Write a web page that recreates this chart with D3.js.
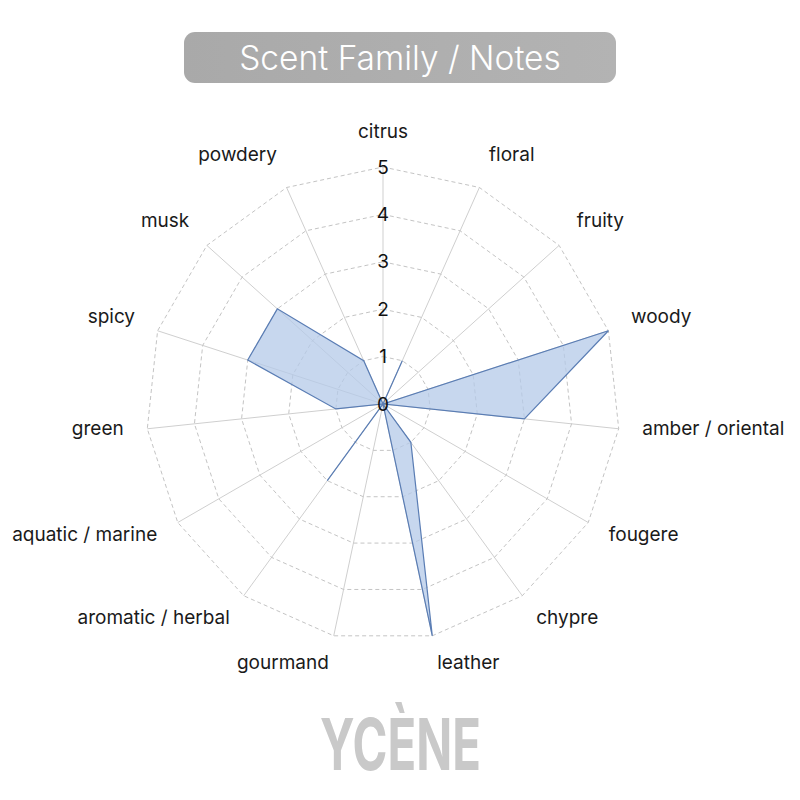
<!DOCTYPE html>
<html>
<head>
<meta charset="utf-8">
<script src="https://cdn.jsdelivr.net/npm/d3@7"></script>
<style>
  body { margin: 0; background: #fff; }
  text { font-family: Inter, "Noto Sans", sans-serif; }
</style>
</head>
<body>
<div id="chart"></div>
<script>
// scent families, clockwise from the top
const notes = ['citrus', 'floral', 'fruity', 'woody', 'amber / oriental', 'fougere', 'chypre',
    'leather', 'gourmand', 'aromatic / herbal', 'aquatic / marine', 'green', 'spicy', 'musk', 'powdery'];
const scores = [0, 1, 0, 5, 3, 0, 1, 5, 0, 2, 0, 1, 3, 3, 1];
const ticks = [0, 1, 2, 3, 4, 5];
const title = 'Scent Family / Notes';
const brand = 'YCÈNE';

document.addEventListener('DOMContentLoaded', function(){
    drawRadar();
});

function drawRadar() {
    const width = 800, height = 800;
    const cx = 383, cy = 404, radius = 237;

    const svg = d3.select('#chart').append('svg')
        .attr('width', width).attr('height', height);

    // title box
    const grad = svg.append('defs').append('linearGradient').attr('id', 'titleGrad')
        .attr('x1', 0).attr('x2', 1).attr('y1', 0).attr('y2', 0);
    grad.append('stop').attr('offset', '0%').attr('stop-color', '#a9a9a9');
    grad.append('stop').attr('offset', '100%').attr('stop-color', '#b3b3b3');
    svg.append('rect')
        .attr('x', 184).attr('y', 32).attr('width', 432).attr('height', 51)
        .attr('rx', 11).attr('fill', 'url(#titleGrad)');
    svg.append('text')
        .attr('x', 400).attr('y', 58)
        .attr('text-anchor', 'middle').attr('dominant-baseline', 'central')
        .attr('fill', '#fff').attr('font-size', 33.5).attr('font-weight', 300)
        .text(title);

    const r = d3.scaleLinear().domain([0, d3.max(ticks)]).range([0, radius]);
    const angle = d3.scaleLinear().domain([0, notes.length]).range([0, 2 * Math.PI]);

    const g = svg.append('g').attr('transform', 'translate(' + cx + ',' + cy + ')');

    function pt(i, v) {
        const a = angle(i);
        return [r(v) * Math.sin(a), -r(v) * Math.cos(a)];
    }

    // axis spokes
    g.selectAll('.spoke').data(notes).enter().append('line')
        .attr('class', 'spoke')
        .attr('x1', 0).attr('y1', 0)
        .attr('x2', (d, i) => pt(i, d3.max(ticks))[0])
        .attr('y2', (d, i) => pt(i, d3.max(ticks))[1])
        .attr('stroke', '#cfcfcf').attr('stroke-width', 1);

    // dashed rings
    g.selectAll('.ring').data(ticks.filter(t => t > 0)).enter().append('polygon')
        .attr('class', 'ring')
        .attr('points', t => notes.map((d, i) => pt(i, t).join(',')).join(' '))
        .attr('fill', 'none')
        .attr('stroke', '#c4c4c4').attr('stroke-width', 1)
        .attr('stroke-dasharray', '4,3');

    // data polygon
    const line = d3.line().curve(d3.curveLinearClosed);
    g.append('path')
        .attr('d', line(scores.map((v, i) => pt(i, v))))
        .attr('fill', '#b4c9e8').attr('fill-opacity', 0.75)
        .attr('stroke', '#5a7db4').attr('stroke-width', 1.2)
        .attr('stroke-linejoin', 'miter');

    // tick labels along the first axis
    g.selectAll('.tick').data(ticks).enter().append('text')
        .attr('class', 'tick')
        .attr('x', 0).attr('y', t => -r(t))
        .attr('text-anchor', 'middle').attr('dominant-baseline', 'central')
        .attr('font-size', 19).attr('fill', '#111')
        .text(t => t);

    // category labels
    g.selectAll('.label').data(notes).enter().append('text')
        .attr('class', 'label')
        .attr('x', (d, i) => pt(i, 5.5)[0])
        .attr('y', (d, i) => pt(i, 5.5)[1] - Math.cos(angle(i)) * 8 - 4)
        .attr('text-anchor', (d, i) => {
            const s = Math.sin(angle(i));
            if (Math.abs(s) < 0.05) return 'middle';
            return s > 0 ? 'start' : 'end';
        })
        .attr('dominant-baseline', 'central')
        .attr('font-size', 19).attr('fill', '#1a1a1a')
        .text(d => d);

    // brand mark
    svg.append('text')
        .attr('x', 320).attr('y', 770)
        .attr('textLength', 161).attr('lengthAdjust', 'spacingAndGlyphs')
        .attr('font-family', '"DejaVu Sans Condensed", "DejaVu Sans", sans-serif')
        .attr('font-weight', 'bold').attr('font-size', 72)
        .attr('fill', '#c9c9c9')
        .text(brand);
}
</script>
</body>
</html>
